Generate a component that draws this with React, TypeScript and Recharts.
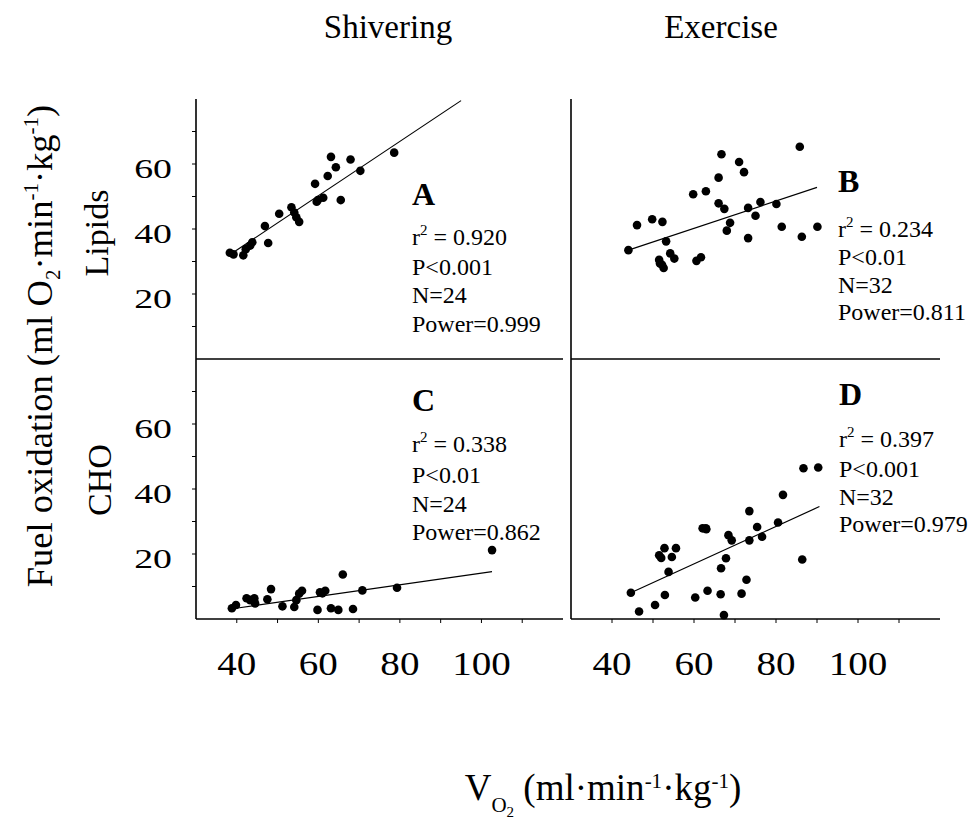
import React from "react"
import { ScatterChart, Scatter, XAxis, YAxis } from "recharts"

// V̇O2 values (ml·min-1·kg-1) and fuel oxidation values, one pair of arrays per panel
const shiverLipidX = [38.3, 39.2, 41.6, 42.2, 43.3, 43.8, 46.9, 47.7, 50.4, 53.4, 54.1, 54.6, 55.3, 59.2, 59.6, 59.9, 61.2, 62.3, 63.1, 64.3, 65.5, 67.9, 70.3, 78.6]
const shiverLipidY = [32.7, 32.2, 31.9, 33.8, 34.9, 35.9, 40.9, 35.7, 44.7, 46.7, 45.1, 43.6, 42.2, 53.9, 48.4, 48.9, 49.6, 56.3, 62.2, 59.0, 48.9, 61.4, 57.9, 63.5]

const exerLipidX = [44.0, 46.1, 49.8, 52.3, 53.2, 51.5, 51.7, 52.6, 52.2, 54.2, 55.2, 60.6, 61.7, 59.8, 62.9, 66.0, 66.7, 66.0, 67.4, 68.8, 68.0, 71.0, 72.2, 73.2, 73.2, 75.0, 76.2, 80.1, 81.4, 85.8, 86.3, 90.1]
const exerLipidY = [33.5, 41.2, 43.0, 42.2, 36.2, 30.5, 29.4, 28.0, 29.0, 32.5, 30.9, 30.2, 31.3, 50.7, 51.6, 55.8, 63.0, 47.9, 46.2, 41.9, 39.5, 60.6, 57.5, 46.5, 37.2, 44.1, 48.3, 47.7, 40.7, 65.3, 37.6, 40.7]

const shiverChoX = [38.8, 39.8, 42.4, 43.3, 44.3, 44.5, 47.5, 48.4, 51.2, 54.1, 54.6, 55.3, 56.0, 59.8, 60.4, 61.0, 61.7, 63.1, 64.9, 66.0, 68.5, 70.8, 79.3, 102.6]
const shiverChoY = [3.3, 4.3, 6.4, 5.8, 6.4, 4.8, 6.1, 9.2, 3.9, 3.7, 5.8, 7.8, 8.7, 2.8, 8.2, 7.9, 8.7, 3.3, 2.8, 13.7, 3.1, 8.8, 9.6, 21.2]

const exerChoX = [44.6, 46.6, 50.5, 52.9, 53.8, 51.5, 52.0, 52.8, 54.6, 55.6, 60.3, 62.1, 62.9, 63.3, 66.5, 66.6, 67.3, 67.8, 68.4, 69.2, 71.6, 72.8, 73.5, 73.5, 75.4, 76.6, 80.5, 81.7, 86.4, 86.7, 90.3, 63.0]
const exerChoY = [8.1, 2.3, 4.3, 7.4, 14.5, 19.6, 18.8, 21.8, 19.1, 21.8, 6.6, 27.9, 27.9, 8.7, 7.6, 15.6, 1.2, 18.7, 25.8, 24.2, 7.8, 12.1, 24.2, 33.2, 28.3, 25.3, 29.7, 38.2, 18.3, 46.4, 46.6, 27.6]

// regression line end points
const fitA = [{ x: 39.4, y: 33.0 }, { x: 95.0, y: 79.5 }]
const fitB = [{ x: 44.0, y: 33.5 }, { x: 90.0, y: 52.8 }]
const fitC = [{ x: 39.8, y: 3.3 }, { x: 102.6, y: 14.6 }]
const fitD = [{ x: 44.6, y: 8.1 }, { x: 90.6, y: 34.6 }]

const xTicks = [40, 50, 60, 70, 80, 90, 100, 110]
const xTickLabels = [40, 60, 80, 100]
const yTicks = [10, 20, 30, 40, 50, 60, 70]
const yTickLabels = [20, 40, 60]

const statsA = ["0.920", "P<0.001", "N=24", "Power=0.999"]
const statsB = ["0.234", "P<0.01", "N=32", "Power=0.811"]
const statsC = ["0.338", "P<0.01", "N=24", "Power=0.862"]
const statsD = ["0.397", "P<0.001", "N=32", "Power=0.979"]

const FONT = "'Liberation Serif', 'Times New Roman', serif"

const zip = (xs: number[], ys: number[]) => xs.map((x, i) => ({ x, y: ys[i] }))

const Dot = (props: any) => <circle cx={props.cx} cy={props.cy} r={4.3} fill="#000" />
const NoDot = () => <g />

const YTick = (props: any) => {
  const { x, y, payload } = props
  if (!yTickLabels.includes(payload.value)) return <g />
  return (
    <text transform={`translate(${x},${y + 14}) scale(1.35,1)`} textAnchor="end" fontSize={28} fontFamily={FONT} fill="#000">
      {payload.value}
    </text>
  )
}

const XTick = (props: any) => {
  const { x, y, payload } = props
  if (!xTickLabels.includes(payload.value)) return <g />
  return (
    <text transform={`translate(${x},${y}) scale(1.15,1)`} textAnchor="middle" fontSize={34} fontFamily={FONT} fill="#000">
      {payload.value}
    </text>
  )
}

type PanelProps = {
  left: number
  top: number
  plotWidth: number
  points: { x: number; y: number }[]
  fit: { x: number; y: number }[]
  showYLabels: boolean
  showXLabels: boolean
}

function Panel({ left, top, plotWidth, points, fit, showYLabels, showXLabels }: PanelProps) {
  const yAxisWidth = showYLabels ? 100 : 10
  const xAxisHeight = showXLabels ? 70 : 10
  const mTop = 5
  const mRight = 5
  return (
    <div style={{ position: "absolute", left: left - yAxisWidth, top: top - mTop }}>
      <ScatterChart
        width={yAxisWidth + plotWidth + mRight}
        height={mTop + 260 + xAxisHeight}
        margin={{ top: mTop, right: mRight, bottom: 0, left: 0 }}
        style={{ overflow: "visible" }}
      >
        <XAxis
          type="number"
          dataKey="x"
          domain={[30, 120]}
          ticks={xTicks}
          height={xAxisHeight}
          axisLine={{ stroke: "#000", strokeWidth: 1.6 }}
          tickLine={{ stroke: "#000", strokeWidth: 1 }}
          tickSize={4}
          tickMargin={52}
          tick={showXLabels ? <XTick /> : false}
        />
        <YAxis
          type="number"
          dataKey="y"
          domain={[0, 80]}
          ticks={yTicks}
          width={yAxisWidth}
          axisLine={{ stroke: "#000", strokeWidth: 1.6 }}
          tickLine={{ stroke: "#000", strokeWidth: 1 }}
          tickSize={4}
          tickMargin={20}
          tick={showYLabels ? <YTick /> : false}
        />
        <Scatter data={fit} line={{ stroke: "#000", strokeWidth: 1.2 }} shape={NoDot} isAnimationActive={false} legendType="none" />
        <Scatter data={points} shape={Dot} isAnimationActive={false} />
      </ScatterChart>
    </div>
  )
}

function Stats({ x, y, letter, stats, steps }: { x: number; y: number; letter: string; stats: string[]; steps: number[] }) {
  return (
    <g fontFamily={FONT} fill="#000">
      <text x={x} y={y} fontSize={32} fontWeight="bold">{letter}</text>
      <text x={x} y={y + steps[0]} fontSize={24}>
        r<tspan fontSize={15} dy={-10}>2</tspan>
        <tspan dy={10}> = {stats[0]}</tspan>
      </text>
      <text x={x} y={y + steps[1]} fontSize={24}>{stats[1]}</text>
      <text x={x} y={y + steps[2]} fontSize={24}>{stats[2]}</text>
      <text x={x} y={y + steps[3]} fontSize={24}>{stats[3]}</text>
    </g>
  )
}

export default function App() {
  return (
    <div style={{ position: "absolute", left: 0, top: 0, width: 977, height: 822, background: "#fff" }}>
      <Panel left={196} top={99} plotWidth={367} points={zip(shiverLipidX, shiverLipidY)} fit={fitA} showYLabels showXLabels={false} />
      <Panel left={571} top={99} plotWidth={369} points={zip(exerLipidX, exerLipidY)} fit={fitB} showYLabels={false} showXLabels={false} />
      <Panel left={196} top={359} plotWidth={367} points={zip(shiverChoX, shiverChoY)} fit={fitC} showYLabels showXLabels />
      <Panel left={571} top={359} plotWidth={369} points={zip(exerChoX, exerChoY)} fit={fitD} showYLabels={false} showXLabels />
      <svg width={977} height={822} style={{ position: "absolute", left: 0, top: 0, pointerEvents: "none" }}>
        <g fontFamily={FONT} fill="#000">
          <text x={388} y={38} fontSize={33} textAnchor="middle">Shivering</text>
          <text x={721} y={38} fontSize={33} textAnchor="middle">Exercise</text>
          <text transform="translate(52,346) rotate(-90)" fontSize={36.5} textAnchor="middle">
            Fuel oxidation (ml O<tspan fontSize={21} dy={8}>2</tspan>
            <tspan dy={-8}>·min</tspan>
            <tspan fontSize={21} dy={-14}>-1</tspan>
            <tspan dy={14}>·kg</tspan>
            <tspan fontSize={21} dy={-14}>-1</tspan>
            <tspan dy={14}>)</tspan>
          </text>
          <text transform="translate(108,233) rotate(-90)" fontSize={34} textAnchor="middle">Lipids</text>
          <text transform="translate(111,480) rotate(-90)" fontSize={34} textAnchor="middle">CHO</text>
          <text x={603} y={800} fontSize={37} textAnchor="middle">
            V<tspan fontSize={21} dy={12}>O</tspan>
            <tspan fontSize={15} dy={5}>2</tspan>
            <tspan dy={-17}> (ml·min</tspan>
            <tspan fontSize={21} dy={-12}>-1</tspan>
            <tspan dy={12}>·kg</tspan>
            <tspan fontSize={21} dy={-12}>-1</tspan>
            <tspan dy={12}>)</tspan>
          </text>
        </g>
        <Stats x={412} y={205} letter="A" stats={statsA} steps={[40, 70, 98, 127]} />
        <Stats x={838} y={192} letter="B" stats={statsB} steps={[45, 73, 101, 128]} />
        <Stats x={412} y={411} letter="C" stats={statsC} steps={[41, 72, 101, 129]} />
        <Stats x={839} y={405} letter="D" stats={statsD} steps={[42, 72, 100, 127]} />
      </svg>
    </div>
  )
}
